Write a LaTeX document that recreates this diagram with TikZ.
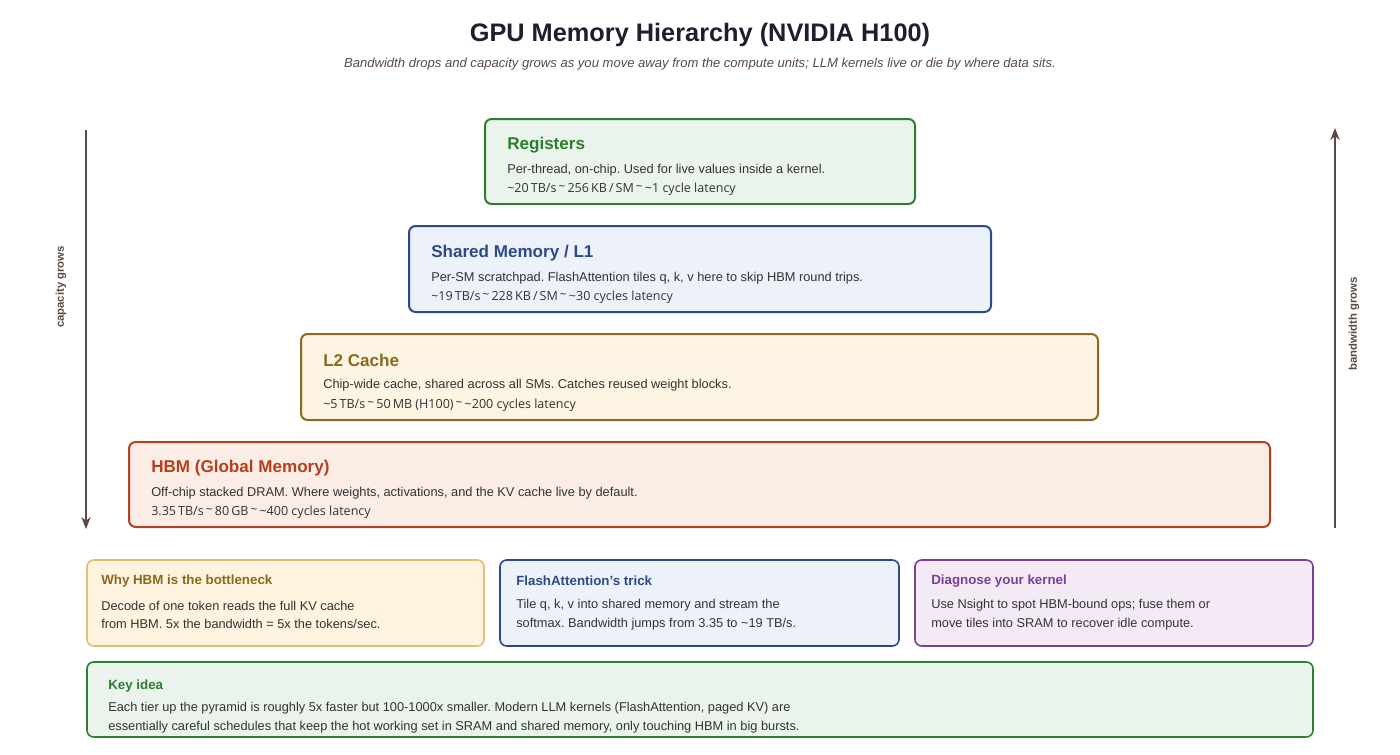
\documentclass[tikz,border=0pt]{standalone}
\usepackage{fontspec}
\setmainfont{Liberation Sans}
\newfontfamily\statfont{Open Sans}
\usetikzlibrary{arrows.meta}
\frenchspacing
\definecolor{gS}{HTML}{2E7D32}\definecolor{gF}{HTML}{EAF4EC}
\definecolor{bS}{HTML}{2C4A8A}\definecolor{bF}{HTML}{EDF2FA}
\definecolor{yS}{HTML}{8A6A1E}\definecolor{yF}{HTML}{FDF4E3}
\definecolor{rS}{HTML}{B5401E}\definecolor{rF}{HTML}{FBECE6}
\definecolor{cyS}{HTML}{E0C070}\definecolor{cyF}{HTML}{FDF3DF}
\definecolor{pS}{HTML}{7B3F98}\definecolor{pF}{HTML}{F3EAF6}
\definecolor{ink}{HTML}{1E1E2E}\definecolor{body}{HTML}{333333}
\definecolor{axis}{HTML}{5A4A42}
\tikzset{
 tier/.style={draw=#1S,fill=#1F,line width=1.5pt,rounded corners=5pt},
 ttl/.style={anchor=west,inner sep=0pt,font=\fontsize{12.8}{15}\selectfont\bfseries},
 txt/.style={anchor=west,inner sep=0pt,font=\fontsize{9.6}{14}\selectfont,text=body,align=left},
 stat/.style={anchor=west,inner sep=0pt,font=\statfont\fontsize{9.4}{12}\selectfont,text=body},
 ctl/.style={anchor=west,inner sep=0pt,font=\fontsize{10}{12}\selectfont\bfseries},
 ax/.style={draw=axis,line width=1.2pt,-{Stealth[length=9pt,width=7pt]}},
 axl/.style={font=\fontsize{8.5}{10}\selectfont\bfseries,text=axis,rotate=90}
}
\newcommand{\sep}{\,{\small\raisebox{0.25ex}{\textasciitilde}}\,}
\begin{document}
\begin{tikzpicture}[x=0.75pt,y=-0.75pt]
\path[fill=white] (0,0) rectangle (1400,754);
\node (title) at (700,35) {\fontsize{19}{22}\selectfont\bfseries\color{ink}GPU Memory Hierarchy (NVIDIA H100)};
\node (sub) at (700,64) {\fontsize{9.8}{12}\selectfont\itshape\color{axis}Bandwidth drops and capacity grows as you move away from the compute units; LLM kernels live or die by where data sits.};

\draw[tier=g] (485,119) rectangle (915,204);
\node[ttl,text=gS] (t1) at (507,145) {Registers};
\node[txt] (d1) at (507,170) {Per-thread, on-chip. Used for live values inside a kernel.};
\node[stat] (s1) at (507,189) {\textasciitilde20\,TB/s\sep256\,KB\,/\,SM\sep\textasciitilde1 cycle latency};

\draw[tier=b] (409,226) rectangle (991,312);
\node[ttl,text=bS] (t2) at (431,253) {Shared Memory / L1};
\node[txt] (d2) at (431,278) {Per-SM scratchpad. FlashAttention tiles q, k, v here to skip HBM round trips.};
\node[stat] (s2) at (431,297) {\textasciitilde19\,TB/s\sep228\,KB\,/\,SM\sep\textasciitilde30 cycles latency};

\draw[tier=y] (301,334) rectangle (1098,420);
\node[ttl,text=yS] (t3) at (323,360) {L2 Cache};
\node[txt] (d3) at (323,385) {Chip-wide cache, shared across all SMs. Catches reused weight blocks.};
\node[stat] (s3) at (323,405) {\textasciitilde5\,TB/s\sep50\,MB (H100)\sep\textasciitilde200 cycles latency};

\draw[tier=r] (129,442) rectangle (1270,527);
\node[ttl,text=rS] (t4) at (151,468) {HBM (Global Memory)};
\node[txt] (d4) at (151,493) {Off-chip stacked DRAM. Where weights, activations, and the KV cache live by default.};
\node[stat] (s4) at (151,512) {3.35\,TB/s\sep80\,GB\sep\textasciitilde400 cycles latency};

\coordinate (la) at (86,130); \coordinate (lb) at (86,529);
\draw[ax] (la) -- (lb);
\node[axl] (cl) at (61,287) {capacity grows};
\coordinate (ra) at (1335,528); \coordinate (rb) at (1335,128);
\draw[ax] (ra) -- (rb);
\node[axl] (bl) at (1354,324) {bandwidth grows};

\draw[draw=cyS,fill=cyF,line width=1.2pt,rounded corners=5pt] (87,560) rectangle (484,646);
\node[ctl,text=yS] (c1) at (101,581) {Why HBM is the bottleneck};
\node[txt] (e1) at (101,615) {Decode of one token reads the full KV cache\\from HBM. 5x the bandwidth = 5x the tokens/sec.};
\draw[draw=bS,fill=bF,line width=1.2pt,rounded corners=5pt] (500,560) rectangle (899,646);
\node[ctl,text=bS] (c2) at (516,581) {FlashAttention's trick};
\node[txt] (e2) at (516,615) {Tile q, k, v into shared memory and stream the\\softmax. Bandwidth jumps from 3.35 to \textasciitilde19 TB/s.};
\draw[draw=pS,fill=pF,line width=1.2pt,rounded corners=5pt] (915,560) rectangle (1313,646);
\node[ctl,text=pS] (c3) at (931,581) {Diagnose your kernel};
\node[txt] (e3) at (931,615) {Use Nsight to spot HBM-bound ops; fuse them or\\move tiles into SRAM to recover idle compute.};

\draw[draw=gS,fill=gF,line width=1.2pt,rounded corners=5pt] (87,662) rectangle (1313,737);
\node[ctl,text=gS] (k) at (108,686) {Key idea};
\node[txt] (ke) at (108,718) {Each tier up the pyramid is roughly 5x faster but 100-1000x smaller. Modern LLM kernels (FlashAttention, paged KV) are\\essentially careful schedules that keep the hot working set in SRAM and shared memory, only touching HBM in big bursts.};
\end{tikzpicture}
\end{document}
